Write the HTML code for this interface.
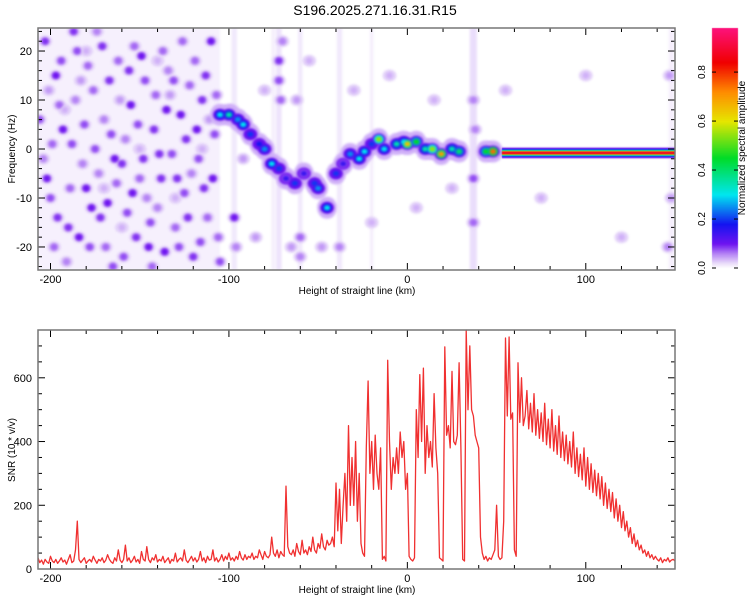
<!DOCTYPE html>
<html><head><meta charset="utf-8"><style>
body{margin:0;background:#fff;}
#wrap{position:relative;width:750px;height:600px;font-family:"Liberation Sans",sans-serif;}
canvas{position:absolute;left:0;top:0;}
svg{position:absolute;left:0;top:0;}
text{font-family:"Liberation Sans",sans-serif;fill:#000;}
</style></head><body>
<div id="wrap">
<canvas id="spec" width="750" height="600"></canvas>
<svg id="svg" width="750" height="600"></svg>
</div>
<script>
// ---------- data ----------
const xDomain=[-207,150];
const fDomain=[-24.7,24.7];
const snrDomain=[0,750];
const xTicks=[-200,-100,0,100];
const fTicks=[-20,-10,0,10,20];
const snrTicks=[0,200,400,600];
const cbTicks=[0.0,0.2,0.4,0.6,0.8];
const noiseBlobs=[[-203,22,0.09],[-197,15,0.1],[-195,9,0.07],[-193,4,0.1],[-188,1,0.08],[-185,20,0.08],[-182,-3,0.06],[-180,-8,0.1],[-176,12,0.07],[-172,-14,0.09],[-170,6,0.06],[-168,-11,0.1],[-165,-24,0.08],[-162,18,0.07],[-160,-3,0.09],[-158,2,0.06],[-155,9,0.1],[-152,-18,0.09],[-150,-6,0.07],[-147,14,0.08],[-145,-20,0.1],[-142,4,0.09],[-140,-12,0.06],[-137,20,0.07],[-135,8,0.1],[-132,-1,0.08],[-130,-16,0.07],[-127,7,0.1],[-125,-9,0.08],[-122,13,0.07],[-120,-22,0.09],[-117,-2,0.08],[-115,10,0.09],[-112,-14,0.07],[-110,22,0.1],[-108,3,0.08],[-200,-10,0.08],[-198,-20,0.07],[-190,-16,0.09],[-186,10,0.06],[-178,-20,0.08],[-174,24,0.06],[-166,3,0.08],[-163,-7,0.07],[-157,-13,0.08],[-153,21,0.07],[-148,-2,0.09],[-143,-24,0.07],[-138,-6,0.09],[-134,16,0.06],[-128,-20,0.08],[-124,2,0.09],[-119,18,0.07],[-114,-8,0.09],[-106,-18,0.07],[-204,-2,0.06],[-201,12,0.05],[-191,-23,0.06],[-183,14,0.05],[-173,-5,0.06],[-161,10,0.05],[-146,-10,0.06],[-133,11,0.05],[-121,-5,0.06],[-111,6,0.05],
[-206,6,0.08],[-202,-6,0.1],[-199,1,0.07],[-196,-14,0.09],[-194,18,0.08],[-189,-8,0.07],[-187,24,0.09],[-184,-18,0.1],[-181,5,0.08],[-179,17,0.07],[-177,-12,0.1],[-175,0,0.08],[-171,21,0.09],[-169,-20,0.07],[-167,14,0.09],[-164,-2,0.1],[-159,-22,0.08],[-156,16,0.09],[-154,-9,0.1],[-151,5,0.08],[-149,19,0.1],[-144,-15,0.08],[-141,11,0.07],[-139,-1,0.09],[-136,-21,0.1],[-131,14,0.08],[-129,-6,0.09],[-126,22,0.07],[-123,-14,0.09],[-118,4,0.1],[-116,-19,0.08],[-113,15,0.09],[-109,-6,0.1],[-107,11,0.07],[-105,-23,0.08],[-192,8,0.04],[-170,-8,0.04],[-150,0,0.04],[-130,-10,0.04],[-115,0,0.04],[-180,20,0.04],[-140,18,0.04],[-160,-16,0.04],
[-97,-14,0.1],[-96,-20,0.06],[-98,8,0.05],[-92,-2,0.05],[-85,-18,0.05],[-80,12,0.04],[-72,18,0.09],[-72,14,0.08],[-71,10,0.07],[-70,22,0.06],[-65,-20,0.05],[-60,-18,0.07],[-60,-22,0.06],[-62,10,0.05],[-55,18,0.04],[-48,-20,0.05],[-38,-20,0.06],[-30,12,0.04],[-20,-15,0.04],[-10,15,0.04],[5,-12,0.04],[15,10,0.04],[25,-8,0.04],[37,-15,0.07],[37,10,0.06],[37,-6,0.08],[38,4,0.06],[55,12,0.04],[75,-10,0.04],[100,15,0.04],[120,-18,0.04],[146,-20,0.06],[147,15,0.05],[148,-10,0.05]];
const stripes=[[-97,3,0.025],[-72,3,0.03],[-60,2.5,0.025],[-38,3,0.025],[-20,2,0.02],[37,4,0.035],[148,3,0.02],[-75,2,0.02]];
const ridge=[[-105,7,0.3],[-100,7,0.35],[-95,6,0.25],[-92,5,0.3],[-88,3,0.2],[-83,1,0.18],[-80,0,0.25],[-76,-3,0.3],[-72,-4,0.2],[-68,-6,0.15],[-63,-7,0.2],[-58,-5,0.15],[-52,-7,0.2],[-50,-8,0.25],[-45,-12,0.3],[-40,-5,0.2],[-36,-3,0.15],[-32,-1,0.25],[-27,-2,0.3],[-24,-0.5,0.3],[-20,1,0.2],[-16,2,0.55],[-13,0,0.3],[-6,1,0.35],[-2,1.5,0.3],[0,1,0.65],[5,1.5,0.45],[10,0,0.35],[14,0,0.55],[19,-1,0.7],[25,0,0.35],[29,-0.5,0.4],[44,-0.5,0.45],[48,-0.5,0.75]];
const lineStart=53, lineEnd=150, lineF=-0.8, lineAmp=0.88;
const snrStart=-207;
const snrValues=[35,20,28,15,30,22,18,40,25,20,
30,18,25,35,22,28,15,30,45,20,
25,60,150,30,20,28,35,18,25,30,
22,40,28,18,30,25,35,20,28,45,
30,22,18,35,25,60,28,20,30,75,
25,35,20,28,40,22,30,18,55,30,
25,70,30,20,35,28,45,22,30,25,
40,20,28,35,18,30,25,50,22,30,
35,25,60,28,20,30,40,25,35,22,
30,55,25,35,20,40,28,30,60,25,
35,22,30,45,25,40,30,50,28,35,
25,40,30,55,35,28,45,30,40,35,
50,30,40,35,60,45,30,55,40,35,
45,100,50,40,60,35,55,45,40,260,
70,50,45,60,40,80,55,45,90,50,
60,45,70,55,100,60,50,80,65,110,
70,60,90,75,80,100,70,
270,120,250,80,200,300,150,450,200,350,
200,400,150,300,80,50,40,380,590,300,
400,250,420,300,250,380,30,40,25,655,
400,250,350,300,380,300,430,350,400,250,
300,40,30,25,35,500,350,610,400,630,
300,450,350,400,320,550,380,300,35,30,
25,697,420,450,380,620,400,390,420,647,
380,30,25,750,500,700,500,480,420,400,
380,100,50,30,40,25,35,30,45,60,
200,40,30,35,150,725,480,728,470,490,
60,40,647,460,600,450,480,560,440,520,
430,550,420,500,410,490,400,520,390,470,
380,500,370,450,360,480,350,430,340,420,
330,400,320,430,300,380,290,360,280,380,
260,350,250,330,240,310,230,300,220,290,
200,270,190,250,180,240,160,220,150,200,
130,180,120,150,100,130,80,110,70,90,
60,75,50,60,40,55,35,45,30,40,
30,25,35,20,30,25,35,22,28,30,25];

// ---------- geometry ----------
const P1={l:38,r:675,t:28,b:270}, P2={l:38,r:675,t:330,b:569}, CB={l:712,r:738,t:28,b:268,max:0.98};
const sx=(v,P)=>P.l+(v-xDomain[0])/(xDomain[1]-xDomain[0])*(P.r-P.l);
const sf=v=>P1.b-(v-fDomain[0])/(fDomain[1]-fDomain[0])*(P1.b-P1.t);
const sy=v=>P2.b-(v-snrDomain[0])/(snrDomain[1]-snrDomain[0])*(P2.b-P2.t);
const cbY=v=>CB.b-v/CB.max*(CB.b-CB.t);
const stops=[[0,[255,255,255]],[0.02,[235,222,250]],[0.06,[180,130,245]],[0.1,[110,20,240]],[0.18,[20,20,240]],[0.3,[0,230,240]],[0.45,[0,220,40]],[0.6,[230,230,0]],[0.72,[255,140,0]],[0.84,[240,0,0]],[1,[255,20,140]]];
function cmap(a){for(let i=1;i<stops.length;i++){if(a<=stops[i][0]){const[a0,c0]=stops[i-1],[a1,c1]=stops[i];const t=(a-a0)/(a1-a0);return `rgb(${c0.map((c,k)=>Math.round(c+(c1[k]-c)*t)).join(',')})`;}}return 'rgb(255,20,140)';}

// ---------- spectrogram ----------
const ctx=document.getElementById('spec').getContext('2d');
ctx.save();ctx.beginPath();ctx.rect(P1.l,P1.t,P1.r-P1.l,P1.b-P1.t);ctx.clip();
ctx.filter='blur(1px)';
ctx.fillStyle='rgba(225,205,250,0.3)';ctx.fillRect(P1.l,P1.t,sx(-105,P1)-P1.l,P1.b-P1.t);
stripes.forEach(s=>{ctx.fillStyle=cmap(s[2]);ctx.globalAlpha=0.5;const x0=sx(s[0]-s[1]/2,P1),x1=sx(s[0]+s[1]/2,P1);ctx.fillRect(x0,P1.t,x1-x0,P1.b-P1.t);});
ctx.globalAlpha=1;
function blob(x,y,rx,ry,c){ctx.fillStyle=c;ctx.beginPath();ctx.ellipse(x,y,rx,ry,0,0,Math.PI*2);ctx.fill();}
noiseBlobs.forEach(b=>blob(sx(b[0],P1),sf(b[1]),7,6,cmap(0.025)));
noiseBlobs.forEach(b=>blob(sx(b[0],P1),sf(b[1]),4.5,4,cmap(b[2]*0.7)));
noiseBlobs.forEach(b=>blob(sx(b[0],P1),sf(b[1]),3,3,cmap(b[2])));
ridge.forEach(r=>blob(sx(r[0],P1),sf(r[1]),10,11,cmap(0.04)));
ridge.forEach(r=>blob(sx(r[0],P1),sf(r[1]),7,6,cmap(0.1)));
ridge.forEach(r=>blob(sx(r[0],P1),sf(r[1]),5,4.5,cmap(r[2]*0.55)));
ridge.forEach(r=>blob(sx(r[0],P1),sf(r[1]),3,2.5,cmap(r[2])));
ctx.filter='none';
const lx0=sx(lineStart,P1),lx1=sx(lineEnd,P1),ly=sf(lineF);
[[12,0.04],[10,0.1],[8,0.2],[6,0.32],[4.5,0.5],[3.5,0.7],[2.4,lineAmp]].forEach(([h,a])=>{ctx.fillStyle=cmap(Math.min(a,lineAmp));ctx.fillRect(lx0,ly-h/2,lx1-lx0,h);});
ctx.restore();
// colorbar
for(let y=CB.t;y<CB.b;y++){ctx.fillStyle=cmap((CB.b-y)/(CB.b-CB.t)*CB.max);ctx.fillRect(CB.l,y,CB.r-CB.l,1);}

// ---------- svg ----------
const svg=document.getElementById('svg'),NS='http://www.w3.org/2000/svg';
function el(t,a,txt){const e=document.createElementNS(NS,t);for(const k in a)e.setAttribute(k,a[k]);if(txt!==undefined)e.textContent=txt;svg.appendChild(e);return e;}
let e;
e=el('text',{x:375,y:15,'text-anchor':'middle','font-size':14},'S196.2025.271.16.31.R15');


function frame(P,name){e=el('rect',{x:P.l,y:P.t,width:P.r-P.l,height:P.b-P.t,fill:'none',stroke:'#777','stroke-width':1.5});

}
function xAxis(P,name){
 for(let v=-200;v<=140;v+=20){const x=sx(v,P),maj=v%100===0,L=maj?7:4;
  el('line',{x1:x,x2:x,y1:P.b,y2:P.b-L,stroke:'#000'});el('line',{x1:x,x2:x,y1:P.t,y2:P.t+L,stroke:'#000'});}
 xTicks.forEach(v=>{e=el('text',{x:sx(v,P),y:P.b+13,'text-anchor':'middle','font-size':11},String(v));
 
 });
 e=el('text',{x:357,y:P.b+24,'text-anchor':'middle','font-size':10},'Height of straight line (km)');
 
 
}
// top plot
xAxis(P1,'x-axis-title-top');
for(let v=-24;v<=24;v+=2){const y=sf(v),L=v%10===0?7:4;el('line',{x1:P1.l,x2:P1.l+L,y1:y,y2:y,stroke:'#000'});el('line',{x1:P1.r,x2:P1.r-L,y1:y,y2:y,stroke:'#000'});}
fTicks.forEach(v=>{e=el('text',{x:32,y:sf(v)+4,'text-anchor':'end','font-size':11},String(v));

});
e=el('text',{x:15,y:149,'text-anchor':'middle','font-size':10,transform:'rotate(-90 15 149)'},'Frequency (Hz)');


frame(P1,'spectrogram-frame');
// colorbar
cbTicks.forEach(v=>{const y=cbY(v);el('line',{x1:CB.l,x2:CB.l+4,y1:y,y2:y,stroke:'#000'});el('line',{x1:CB.r,x2:CB.r-4,y1:y,y2:y,stroke:'#000'});
e=el('text',{x:705,y:y,'text-anchor':'middle','font-size':10,transform:`rotate(-90 705 ${y})`},v.toFixed(1));

});
e=el('text',{x:745,y:148,'text-anchor':'middle','font-size':10,transform:'rotate(-90 745 148)'},'Normalized spectral amplitude');


// bottom plot
xAxis(P2,'x-axis-title-bottom');
for(let v=0;v<=750;v+=50){const y=sy(v),L=v%200===0?7:4;el('line',{x1:P2.l,x2:P2.l+L,y1:y,y2:y,stroke:'#000'});el('line',{x1:P2.r,x2:P2.r-L,y1:y,y2:y,stroke:'#000'});}
snrTicks.forEach(v=>{e=el('text',{x:32,y:sy(v)+4,'text-anchor':'end','font-size':11},String(v));

});
e=el('text',{x:15,y:450,'text-anchor':'middle','font-size':10,transform:'rotate(-90 15 450)'},'SNR (10 * v/v)');


const pts=snrValues.map((v,i)=>sx(snrStart+i,P2).toFixed(1)+','+sy(v).toFixed(1)).join(' ');
e=el('polyline',{points:pts,fill:'none',stroke:'#f03030','stroke-width':1.3,'stroke-linejoin':'round'});


frame(P2,'snr-frame');
</script>
</body></html>
